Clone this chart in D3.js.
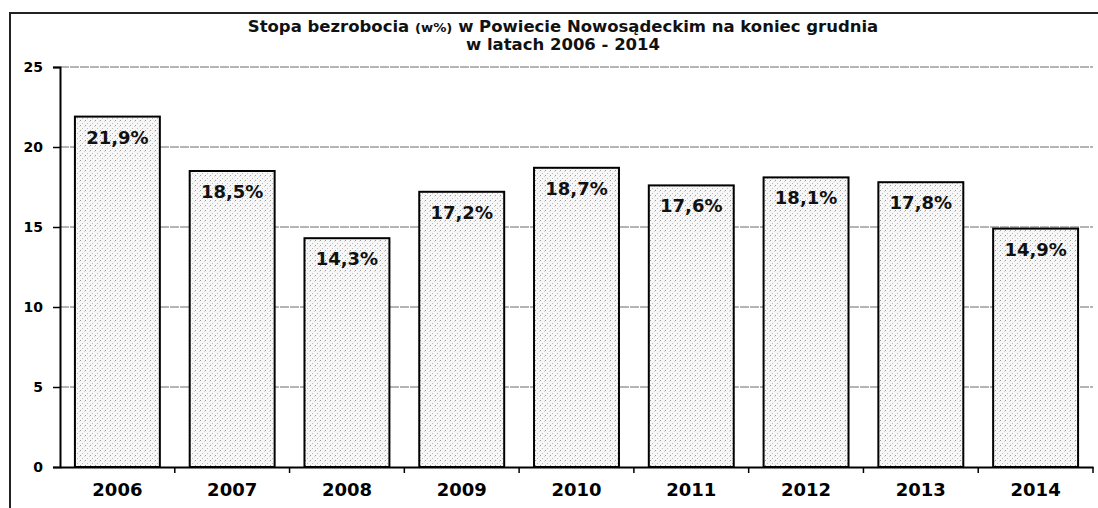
<!DOCTYPE html>
<html>
<head>
    <meta http-equiv="Content-Type" content="text/html;charset=utf8" />
    <title>Stopa bezrobocia</title>
    <script src="https://d3js.org/d3.v7.min.js"></script>
    <style>
        body { margin: 0; background: #fff; font-family: "DejaVu Sans", sans-serif; }
    </style>
</head>
<body>
<div id="chart"></div>
<script>
    // dane
    var years = ["2006", "2007", "2008", "2009", "2010", "2011", "2012", "2013", "2014"];
    var rates = [21.9, 18.5, 14.3, 17.2, 18.7, 17.6, 18.1, 17.8, 14.9];
    var yTicks = [0, 5, 10, 15, 20, 25];

    var W = 1098, H = 508;
    var font = "'DejaVu Sans', sans-serif";
    var svg = d3.select("#chart").append("svg").attr("width", W).attr("height", H);

    // stipple fill
    var defs = svg.append("defs");
    var pat = defs.append("pattern").attr("id", "dots")
        .attr("patternUnits", "userSpaceOnUse").attr("width", 5).attr("height", 5);
    pat.append("rect").attr("width", 5).attr("height", 5).attr("fill", "#f7f7f7");
    pat.append("rect").attr("x", 0).attr("y", 0).attr("width", 1).attr("height", 1).attr("fill", "#999");
    pat.append("rect").attr("x", 2).attr("y", 3).attr("width", 1).attr("height", 1).attr("fill", "#bbb");
    pat.append("rect").attr("x", 4).attr("y", 1).attr("width", 1).attr("height", 1).attr("fill", "#d4d4d4");

    // outer frame
    svg.append("rect").attr("x", 10).attr("y", 13).attr("width", 1100).attr("height", 520)
        .attr("fill", "none").attr("stroke", "#222").attr("stroke-width", 2);

    var x0 = 60, x1 = 1093, yTop = 67, yBot = 467;
    var x = d3.scaleBand().domain(years).range([x0, x1]).paddingInner(0.26).paddingOuter(0.13);
    var y = d3.scaleLinear().domain([0, 25]).range([yBot, yTop]);

    // gridlines
    svg.append("g").selectAll("line").data(yTicks.filter(function(d) { return d > 0; })).enter()
        .append("line")
        .attr("x1", x0).attr("x2", x1)
        .attr("y1", function(d) { return y(d); }).attr("y2", function(d) { return y(d); })
        .attr("stroke", "#6a6a6a").attr("stroke-width", 1).attr("stroke-dasharray", "9,1");

    // bars
    svg.append("g").selectAll("rect").data(rates).enter()
        .append("rect")
        .attr("x", function(d, i) { return x(years[i]); })
        .attr("y", function(d) { return y(d); })
        .attr("width", x.bandwidth())
        .attr("height", function(d) { return yBot - y(d); })
        .attr("fill", "url(#dots)").attr("stroke", "#000").attr("stroke-width", 2);

    // value labels
    svg.append("g").selectAll("text").data(rates).enter()
        .append("text")
        .attr("x", function(d, i) { return x(years[i]) + x.bandwidth() / 2; })
        .attr("y", function(d) { return y(d) + 27; })
        .attr("text-anchor", "middle").attr("font-family", font)
        .attr("font-weight", "bold").attr("font-size", 18).attr("fill", "#111")
        .text(function(d) { return d.toFixed(1).replace(".", ",") + "%"; });

    // y axis
    var yAxis = svg.append("g").attr("transform", "translate(" + x0 + ",0)")
        .call(d3.axisLeft(y).tickValues(yTicks).tickSize(7).tickPadding(10));
    yAxis.select(".domain").attr("stroke", "#000").attr("stroke-width", 2);
    yAxis.selectAll(".tick line").attr("stroke", "#000").attr("stroke-width", 1.5);
    yAxis.selectAll("text").attr("font-size", 14).attr("font-weight", "bold")
        .attr("font-family", font).attr("fill", "#000");

    // x axis
    var xAxis = svg.append("g").attr("transform", "translate(0," + yBot + ")")
        .call(d3.axisBottom(x).tickSize(0).tickPadding(16));
    xAxis.select(".domain").attr("stroke", "#000").attr("stroke-width", 2);
    xAxis.selectAll("text").attr("font-size", 18).attr("font-weight", "bold")
        .attr("font-family", font).attr("fill", "#000");
    // category separator ticks
    svg.append("g").selectAll("line").data(d3.range(1, years.length + 1)).enter()
        .append("line")
        .attr("x1", function(d) { return x0 + d * (x1 - x0) / years.length; })
        .attr("x2", function(d) { return x0 + d * (x1 - x0) / years.length; })
        .attr("y1", yBot).attr("y2", yBot + 6)
        .attr("stroke", "#000").attr("stroke-width", 1.5);

    // title (wide lettering, stretched horizontally)
    var title = svg.append("g").attr("transform", "translate(563,0) scale(1.1,1)")
        .append("text").attr("text-anchor", "middle").attr("font-weight", "bold")
        .attr("font-family", font).attr("font-size", 15).attr("fill", "#111");
    title.append("tspan").attr("x", 0).attr("y", 32).text("Stopa bezrobocia ");
    title.append("tspan").attr("font-size", 12).text("(w%)");
    title.append("tspan").text(" w Powiecie Nowosądeckim na koniec grudnia");
    title.append("tspan").attr("x", 0).attr("y", 50).text("w latach 2006 - 2014");
</script>
</body>
</html>
